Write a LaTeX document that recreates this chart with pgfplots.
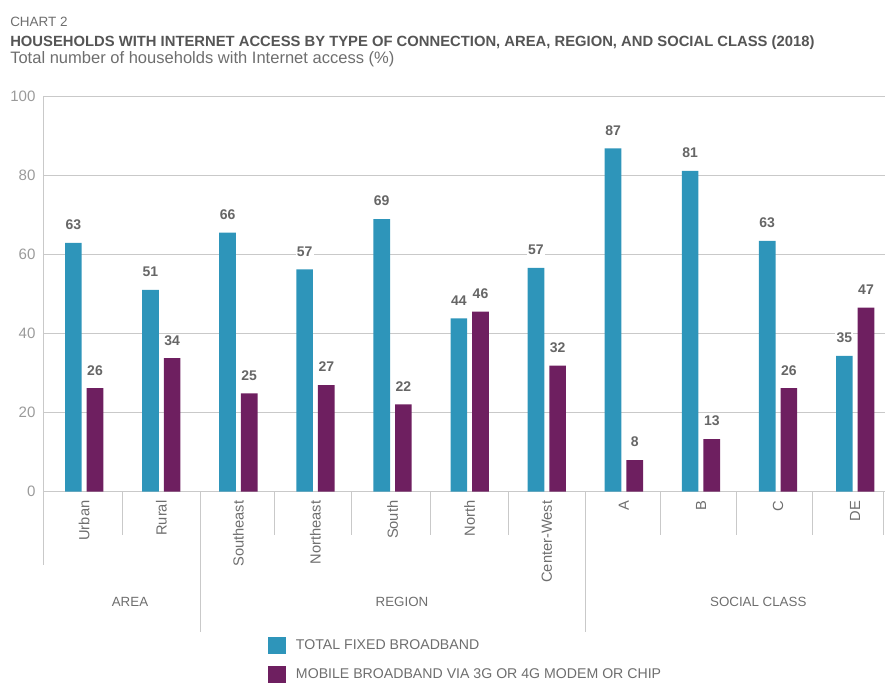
\documentclass[border=0pt]{standalone}
\usepackage{fontspec}
\setmainfont{Liberation Sans}
\usepackage{pgfplots}
\pgfplotsset{compat=1.18}
\usepackage{pgfplotstable}
\definecolor{teal1}{HTML}{2E95BA}
\definecolor{purp1}{HTML}{6E1F60}
\definecolor{gridc}{HTML}{C9C9C9}
\definecolor{txt}{HTML}{6E6E6E}
\definecolor{tickc}{HTML}{9A9A9A}
\definecolor{ttl}{HTML}{555555}

\pgfplotstableread{
x fixed fixedl mobile mobilel
0 63.0 63 26.2 26
1 51.1 51 33.8 34
2 65.6 66 24.9 25
3 56.3 57 27.0 27
4 69.0 69 22.1 22
5 43.9 44 45.6 46
6 56.7 57 31.9 32
7 86.9 87 8.0 8
8 81.2 81 13.3 13
9 63.5 63 26.2 26
10 34.4 35 46.6 47
}\data

\begin{document}
\begin{tikzpicture}[x=1pt,y=1pt]
\path[use as bounding box] (0,0) rectangle (663.75,-512.25);
\node[anchor=base west, inner sep=0pt, font=\fontsize{10.1}{12}\selectfont, text=txt] at (7.5,-19.5) {CHART 2};
\node[anchor=base west, inner sep=0pt, font=\fontsize{11.1}{13}\selectfont\bfseries, text=ttl] at (7.5,-34.5) {HOUSEHOLDS WITH INTERNET ACCESS BY TYPE OF CONNECTION, AREA, REGION, AND SOCIAL CLASS (2018)};
\node[anchor=base west, inner sep=0pt, font=\fontsize{12.4}{14}\selectfont, text=txt] at (7.5,-47.25) {Total number of households with Internet access (\%)};

\begin{axis}[
  at={(32.25pt,-368.78pt)}, anchor=south west,
  scale only axis, width=631.5pt, height=296.25pt,
  xmin=-0.534, xmax=10.387, ymin=0, ymax=100,
  clip=false,
  ybar=3.75pt, bar width=12.5pt,
  ytick={0,20,...,100}, xtick={0,...,10},
  xticklabels={Urban,Rural,Southeast,Northeast,South,North,Center-West,A,B,C,DE},
  ymajorgrids, grid style={gridc, line width=0.6pt},
  axis x line=bottom, axis y line=left,
  axis line style={gridc, line width=0.6pt, -},
  major tick length=0pt,
  /pgf/number format/assume math mode=true,
  yticklabel style={font=\fontsize{11.3}{13}\selectfont, text=tickc, anchor=east, inner sep=0pt, xshift=-5.5pt},
  xticklabel style={rotate=90, anchor=east, inner sep=0pt, font=\fontsize{11}{13}\selectfont, text=txt},
  xticklabel shift=6.5pt,
  point meta=explicit symbolic,
  nodes near coords,
  nodes near coords style={font=\fontsize{10.5}{12}\selectfont\bfseries, text=ttl!90, anchor=center, yshift=13.5pt, fill=white, inner sep=1pt},
  legend style={at={(0.2672,-0.367)}, anchor=north west, draw=none, fill=none, inner sep=0pt, outer sep=0pt, row sep=8.9pt, font=\fontsize{10.6}{12}\selectfont, text=txt, nodes={inner sep=0pt, anchor=west}},
  legend cell align=left,
  legend image code/.code={\fill[#1] (0pt,-6.5pt) rectangle (13.5pt,6.5pt); \path (21pt,0pt);},
]
\addplot[fill=teal1, draw=none] table[x=x, y=fixed, meta=fixedl] {\data};
\addplot[fill=purp1, draw=none] table[x=x, y=mobile, meta=mobilel] {\data};
\legend{TOTAL FIXED BROADBAND, MOBILE BROADBAND VIA 3G OR 4G MODEM OR CHIP}
\draw[gridc, line width=0.6pt] (axis cs:0.499,0) -- ++(0pt,-32.5pt);
\draw[gridc, line width=0.6pt] (axis cs:2.462,0) -- ++(0pt,-32.5pt);
\draw[gridc, line width=0.6pt] (axis cs:3.470,0) -- ++(0pt,-32.5pt);
\draw[gridc, line width=0.6pt] (axis cs:4.485,0) -- ++(0pt,-32.5pt);
\draw[gridc, line width=0.6pt] (axis cs:5.497,0) -- ++(0pt,-32.5pt);
\draw[gridc, line width=0.6pt] (axis cs:7.468,0) -- ++(0pt,-32.5pt);
\draw[gridc, line width=0.6pt] (axis cs:8.454,0) -- ++(0pt,-32.5pt);
\draw[gridc, line width=0.6pt] (axis cs:9.439,0) -- ++(0pt,-32.5pt);
\draw[gridc, line width=0.6pt] (axis cs:10.361,0) -- ++(0pt,-32.5pt);
\draw[gridc, line width=0.6pt] (axis cs:1.502,0) -- ++(0pt,-105.2pt);
\draw[gridc, line width=0.6pt] (axis cs:6.496,0) -- ++(0pt,-105.2pt);
\draw[gridc, line width=0.6pt] (axis cs:-0.534,0) -- ++(0pt,-55pt);
\end{axis}
\node[font=\fontsize{10}{12}\selectfont, text=txt] at (97.5,-451.5) {AREA};
\node[font=\fontsize{10}{12}\selectfont, text=txt] at (301.5,-451.5) {REGION};
\node[font=\fontsize{10}{12}\selectfont, text=txt] at (568.7,-451.5) {SOCIAL CLASS};
\end{tikzpicture}
\end{document}
